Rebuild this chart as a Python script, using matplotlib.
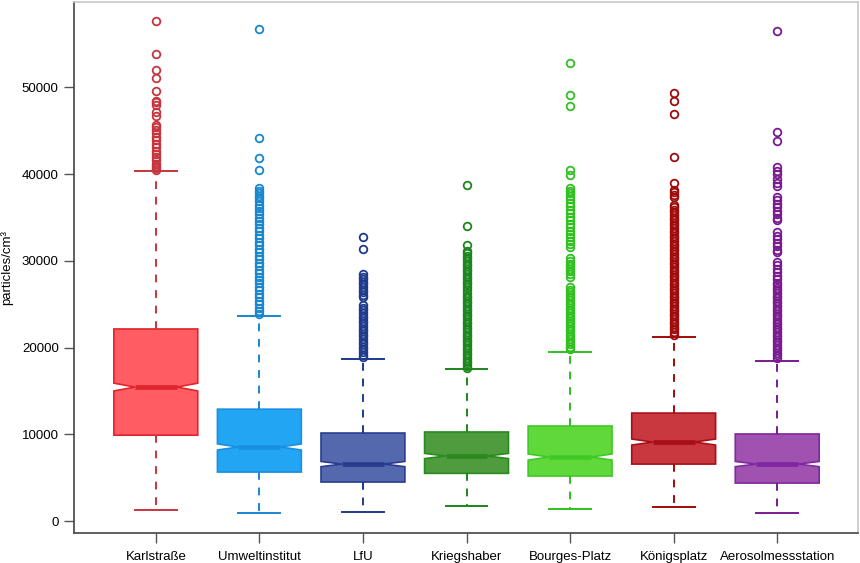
import numpy as np
import matplotlib
matplotlib.use('Agg')
import matplotlib.pyplot as plt

plt.rcParams['font.family'] = ['Liberation Sans', 'DejaVu Sans']

stations = ['Karlstraße', 'Umweltinstitut', 'LfU', 'Kriegshaber',
            'Bourges-Platz', 'Königsplatz', 'Aerosolmessstation']

# box statistics (particles/cm3)
q1 = [9900, 5650, 4500, 5500, 5190, 6570, 4380]
med = [15450, 8540, 6570, 7500, 7380, 9110, 6570]
q3 = [22150, 12900, 10150, 10270, 10960, 12450, 10040]
whislo = [1270, 920, 1040, 1730, 1380, 1610, 920]
whishi = [40400, 23650, 18700, 17530, 19500, 21200, 18450]
notch = [450, 350, 300, 300, 350, 350, 300]

karl_out = [57700, 53900, 52000, 51100, 49650, 48500, 48300, 48000, 47200, 46700,
            45700, 45500, 45100, 44700, 44300, 43900, 43500, 43100, 42700, 42300,
            42000, 41600, 41200, 40900, 40700, 40500]
umwelt_out = [56700, 44200, 41900, 40500, 38400, 38100, 37800, 37500, 37200, 36900,
              36500, 36100, 35800, 35400, 35000, 34600, 34200, 33800, 33400, 33000,
              32600, 32200, 31800, 31400, 31000, 30600, 30200, 29800, 29400, 29000,
              28600, 28200, 27800, 27400, 27000, 26600, 26200, 25800, 25400, 25000,
              24600, 24200, 23900]
lfu_out = [32800, 31400, 28500, 28200, 27900, 27600, 27300, 27000, 26700, 26400,
           26100, 25800, 24900, 24600, 24300, 24000, 23700, 23400, 23100, 22800,
           22500, 22200, 21900, 21600, 21300, 21000, 20700, 20400, 20100, 19800,
           19500, 19200, 18900]
krieg_out = [38750, 34000, 31800, 31200, 30900, 30600, 30300, 30000, 29700, 29400,
             29100, 28800, 28500, 28200, 27900, 27600, 27300, 27000, 26600, 26300,
             26000, 25700, 25400, 25100, 24800, 24500, 24200, 23900, 23600, 23300,
             23000, 22700, 22400, 22100, 21800, 21500, 21200, 20900, 20600, 20300,
             20000, 19700, 19400, 19100, 18800, 18500, 18200, 17900, 17700]
bourges_out = [52800, 49100, 47850, 40500, 39900, 38400, 38100, 37800, 37500, 37100,
               36700, 36300, 35900, 35500, 35100, 34700, 34300, 33900, 33500, 33100,
               32700, 32300, 31900, 31600, 30300, 30000, 29700, 29400, 29100, 28800,
               28500, 28200, 27000, 26700, 26400, 26100, 25800, 25500, 25200, 24900,
               24600, 24300, 24000, 23700, 23400, 23100, 22800, 22500, 22200, 21900,
               21600, 21300, 21000, 20700, 20400, 20100, 19800]
konig_out = [49400, 48400, 46950, 42000, 39000, 38200, 37900, 37600, 37400, 36500,
             36200, 35900, 35600, 35300, 35000, 34700, 34400, 34100, 33800, 33500,
             33200, 32900, 32600, 32300, 32000, 31700, 31400, 31100, 30800, 30500,
             30200, 29900, 29600, 29300, 29000, 28700, 28400, 28100, 27800, 27500,
             27200, 26900, 26600, 26300, 26000, 25700, 25400, 25100, 24800, 24500,
             24200, 23900, 23600, 23300, 23000, 22700, 22400, 22100, 21800, 21500]
aero_out = [56500, 44900, 43850, 40800, 40400, 40000, 39500, 39000, 38650, 37400,
            37000, 36600, 36200, 35800, 35400, 35000, 34700, 33300, 32900, 32500,
            32100, 31700, 31300, 31000, 29900, 29500, 29100, 28700, 28300, 27900,
            27500, 27200, 26900, 26600, 26300, 26000, 25700, 25400, 25100, 24800,
            24500, 24200, 23900, 23600, 23300, 23000, 22700, 22400, 22100, 21800,
            21500, 21200, 20900, 20600, 20300, 20000, 19700, 19400, 19100, 18800]
outliers = [karl_out, umwelt_out, lfu_out, krieg_out, bourges_out, konig_out, aero_out]

fills = ['#ff5c64', '#22a6f4', '#5468ae', '#4e9c3e', '#60d83a', '#c9383f', '#a052b0']
edges = ['#e0242c', '#1a8ee0', '#2a3c90', '#2a8a20', '#40c828', '#a81018', '#8028a0']
dark = ['#c8343c', '#1a86cc', '#1e3a8c', '#1c861c', '#30c020', '#a00a0a', '#7a1a90']

stats = []
for i in range(len(stations)):
    stats.append(dict(label=stations[i], med=med[i], q1=q1[i], q3=q3[i],
                      whislo=whislo[i], whishi=whishi[i], fliers=outliers[i],
                      cilo=med[i] - notch[i], cihi=med[i] + notch[i]))

fig = plt.figure(figsize=(8.6, 5.63), dpi=100)
ax = fig.add_axes([74/860, 30/563, 784/860, 531/563])

bp = ax.bxp(stats, positions=range(1, 8), widths=0.81, shownotches=True,
            patch_artist=True, showfliers=True)

for i in range(len(stations)):
    bp['boxes'][i].set(facecolor=fills[i], edgecolor=edges[i], linewidth=1.2)
    bp['medians'][i].set(color=edges[i], linewidth=3.4, solid_capstyle='butt')
    for w in bp['whiskers'][2*i:2*i+2]:
        w.set(color=dark[i], linewidth=1.4, linestyle=(0, (4, 4)))
    for c in bp['caps'][2*i:2*i+2]:
        c.set(color=dark[i], linewidth=1.4)
    bp['fliers'][i].set(marker='o', markerfacecolor='none', markeredgecolor=dark[i],
                        markersize=5.5, markeredgewidth=1.3)

ax.set_xlim(0.21, 7.78)
ax.set_ylim(-1380, 59860)
ax.set_yticks([0, 10000, 20000, 30000, 40000, 50000])
ax.set_yticklabels(['0', '10000', '20000', '30000', '40000', '50000'])
ax.set_xticks(range(1, 8))
ax.set_xticklabels(stations)
ax.tick_params(axis='both', direction='out', length=7, width=1, color='#555555',
               labelsize=9.5, pad=4)
ax.tick_params(axis='x', pad=6)
ax.set_ylabel('particles/cm³', fontsize=9.5, labelpad=6)

ax.spines['left'].set_color('#444444')
ax.spines['bottom'].set_color('#444444')
ax.spines['top'].set_color('#c8c8c8')
ax.spines['right'].set_color('#c8c8c8')
for s in ax.spines.values():
    s.set_linewidth(1.2)

plt.savefig('out.png', dpi=100)
